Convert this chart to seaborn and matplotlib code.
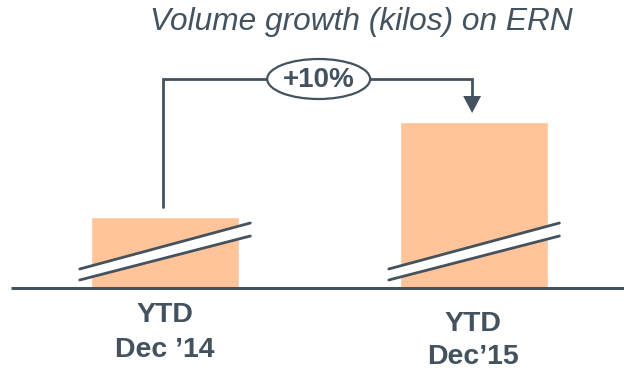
import matplotlib
matplotlib.use("Agg")
import matplotlib.pyplot as plt
from matplotlib.patches import Ellipse
import seaborn as sns
import pandas as pd

# Data (displayed bar heights on a broken axis)
categories = ["Dec \u201914", "Dec\u201915"]
label_top = ["YTD", "YTD"]
displayed_heights = [71, 166]
growth_label = "+10%"
title = "Volume growth (kilos) on ERN"

sns.set_theme(style="white")
plt.rcParams["font.family"] = ["Liberation Sans", "DejaVu Sans"]

DARK = "#44525e"
BAR = "#ffc499"

fig = plt.figure(figsize=(6.24, 3.70), dpi=100)
ax = fig.add_axes([0, 0, 1, 1])

df = pd.DataFrame({"cat": categories, "val": displayed_heights})
sns.barplot(data=df, x="cat", y="val", color=BAR, saturation=1, width=0.479, ax=ax)

ax.set_xlim(-0.534, 1.485)
ax.set_ylim(-82, 288)
ax.axis("off")

# baseline
ax.plot([-0.50, 1.485], [0, 0], color=DARK, lw=2.2, solid_capstyle="butt", zorder=3)

# break marks
for i in range(2):
    x0, x1 = i - 0.276, i + 0.276
    ax.fill_between([x0, x1], [8, 52], [19, 65], color="white", lw=0, zorder=4)
    ax.plot([x0, x1], [19, 65], color=DARK, lw=2, zorder=5)
    ax.plot([x0, x1], [8, 52], color=DARK, lw=2, zorder=5)

# connector
xr = 0.9935
ax.plot([-0.008, -0.008, xr, xr], [81, 209, 209, 190], color=DARK, lw=2, zorder=5,
        solid_joinstyle="miter")
ax.fill([xr - 0.029, xr + 0.029, xr], [192, 192, 175], color=DARK, lw=0, zorder=6)
ell = Ellipse((0.497, 209), 0.333, 40, facecolor="white", edgecolor=DARK, lw=1.6, zorder=7)
ax.add_patch(ell)
ax.text(0.497, 201, growth_label, ha="center", va="baseline", fontsize=20,
        fontweight="bold", color=DARK, zorder=8)

# title
ax.text((573 - 165) / 309, 258, title, ha="right", va="baseline", fontsize=22.8,
        style="italic", color=DARK)

# category labels
base1 = [-34, -43]
base2 = [-69, -76]
xs = [0, (472.5 - 165) / 309]
for i in range(2):
    ax.text(xs[i], base1[i], label_top[i], ha="center", va="baseline", fontsize=20.5,
            fontweight="bold", color=DARK)
    ax.text(xs[i], base2[i], categories[i], ha="center", va="baseline", fontsize=20.5,
            fontweight="bold", color=DARK)

fig.savefig("out.png", dpi=100)
